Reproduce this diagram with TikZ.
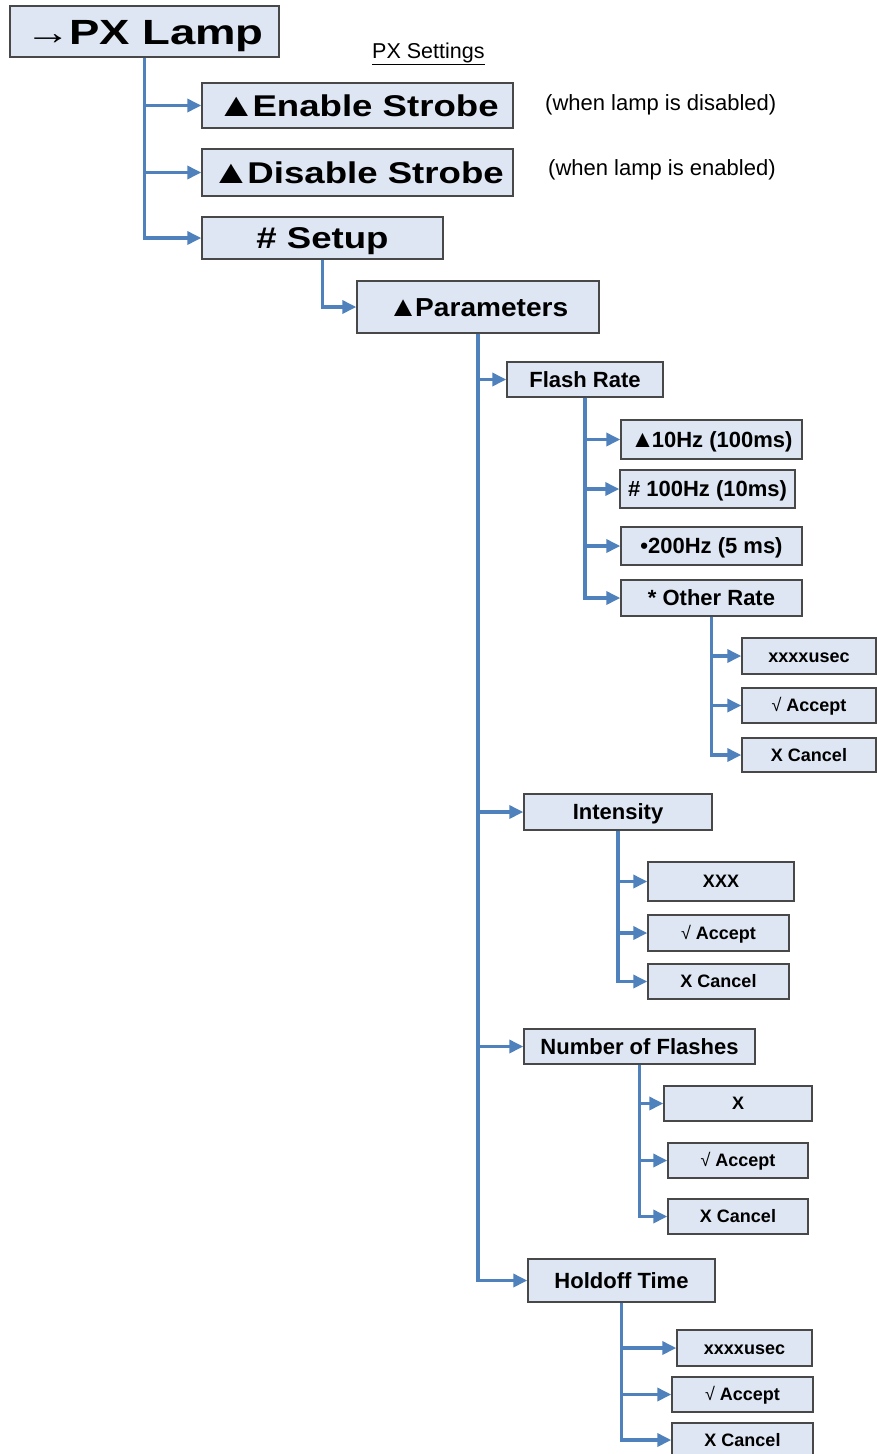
\documentclass[tikz,border=0pt]{standalone}
\usepackage{fontspec}
\setmainfont{Liberation Sans}
\newfontfamily\fontLamp[FakeStretch=1.3]{Liberation Sans}
\newfontfamily\fontBig[FakeStretch=1.22]{Liberation Sans}
\newfontfamily\fontPar[FakeStretch=1.08]{Liberation Sans}
\usetikzlibrary{arrows.meta}
\definecolor{boxfill}{RGB}{221,230,242}
\definecolor{boxline}{RGB}{72,72,72}
\definecolor{linkblue}{RGB}{79,129,189}
\newcommand\tri{{\fontsize{1.1em}{1em}\selectfont▲}\kern-0.12em}
\tikzset{
  menubox/.style={draw=boxline, fill=boxfill, line width=1.4pt, inner sep=0pt, align=center, text depth=0pt},
  lampbox/.style={menubox, font=\fontLamp\bfseries\fontsize{35}{40}\selectfont, text height=25pt},
  bigbox/.style={menubox, font=\fontBig\bfseries\fontsize{30}{36}\selectfont, text height=21.5pt},
  parbox/.style={menubox, font=\fontPar\bfseries\fontsize{26}{30}\selectfont, text height=18.6pt},
  midbox/.style={menubox, font=\bfseries\fontsize{22}{26}\selectfont, text height=15.8pt},
  smallbox/.style={menubox, font=\bfseries\fontsize{18}{22}\selectfont, text height=12.9pt},
  conn/.style={draw=linkblue, line width=3.4pt, -{Triangle[length=14pt,width=13pt]}},
  sidenote/.style={font=\fontsize{22}{26}\selectfont, inner sep=0pt, anchor=west},
}
\begin{document}
\begin{tikzpicture}[x=1pt,y=-1pt]
\useasboundingbox (0,0) rectangle (877,1454);
\fill[white] (0,0) rectangle (877,1454);
\clip (0,0) rectangle (877,1454);

% nodes
\node[lampbox, minimum width=269pt, minimum height=51pt] (lamp) at (144.5,31.5) {→\kern-0.05em PX Lamp};
\node[anchor=base west, inner sep=0pt, font=\fontsize{21.5}{26}\selectfont] (settings) at (372,58) {\underline{PX Settings}};

\node[bigbox, minimum width=311pt, minimum height=45pt] (enable) at (357.5,105.5) {\tri Enable Strobe};
\node[bigbox, minimum width=311pt, minimum height=47pt] (disable) at (357.5,172.5) {\tri Disable Strobe};
\node[bigbox, minimum width=241pt, minimum height=42pt] (setup) at (322.5,238) {\# Setup};
\node[sidenote] (n1) at (545,105) {(when lamp is disabled)};
\node[sidenote] (n2) at (548,170) {(when lamp is enabled)};

\node[parbox, minimum width=242pt, minimum height=52pt] (params) at (478,307) {\tri Parameters};

\node[midbox, minimum width=156pt, minimum height=35pt] (flash) at (585,379.5) {Flash Rate};
\node[midbox, minimum width=181pt, minimum height=39pt] (r10) at (711.5,439.5) {\tri 10Hz (100ms)};
\node[midbox, minimum width=175pt, minimum height=38pt] (r100) at (707.5,489) {\# 100Hz (10ms)};
\node[midbox, minimum width=181pt, minimum height=38pt] (r200) at (711.5,546) {•200Hz (5 ms)};
\node[midbox, minimum width=181pt, minimum height=36pt] (other) at (711.5,598) {* Other Rate};
\node[smallbox, minimum width=134pt, minimum height=36pt] (ou) at (809,656) {xxxxusec};
\node[smallbox, minimum width=134pt, minimum height=35pt] (oa) at (809,705.5) {{\mdseries √} Accept};
\node[smallbox, minimum width=134pt, minimum height=34pt] (oc) at (809,755) {X Cancel};

\node[midbox, minimum width=188pt, minimum height=36pt] (inten) at (618,812) {Intensity};
\node[smallbox, minimum width=146pt, minimum height=39pt] (ix) at (721,881.5) {XXX};
\node[smallbox, minimum width=141pt, minimum height=36pt] (ia) at (718.5,933) {{\mdseries √} Accept};
\node[smallbox, minimum width=141pt, minimum height=35pt] (ic) at (718.5,981.5) {X Cancel};

\node[midbox, minimum width=231pt, minimum height=35pt] (nof) at (639.5,1046.5) {Number of Flashes};
\node[smallbox, minimum width=148pt, minimum height=35pt] (nx) at (738,1103.5) {X};
\node[smallbox, minimum width=140pt, minimum height=35pt] (na) at (738,1160.5) {{\mdseries √} Accept};
\node[smallbox, minimum width=140pt, minimum height=35pt] (nc) at (738,1216.5) {X Cancel};

\node[midbox, minimum width=187pt, minimum height=43pt] (hold) at (621.5,1280.5) {Holdoff Time};
\node[smallbox, minimum width=135pt, minimum height=36pt] (hu) at (744.5,1348) {xxxxusec};
\node[smallbox, minimum width=141pt, minimum height=35pt] (ha) at (742.5,1394.5) {{\mdseries √} Accept};
\node[smallbox, minimum width=141pt, minimum height=34pt] (hc) at (742.5,1440) {X Cancel};

% connectors
\foreach \c in {enable,disable,setup} \draw[conn] (lamp.south) |- (\c.west);
\draw[conn] (setup.south) |- (params.west);
\foreach \c in {flash,inten,nof,hold} \draw[conn] (params.south) |- (\c.west);
\foreach \c in {r10,r100,r200,other} \draw[conn] (flash.south) |- (\c.west);
\foreach \c in {ou,oa,oc} \draw[conn] (other.south) |- (\c.west);
\foreach \c in {ix,ia,ic} \draw[conn] (inten.south) |- (\c.west);
\foreach \c in {nx,na,nc} \draw[conn] (nof.south) |- (\c.west);
\foreach \c in {hu,ha,hc} \draw[conn] (hold.south) |- (\c.west);
\end{tikzpicture}
\end{document}
